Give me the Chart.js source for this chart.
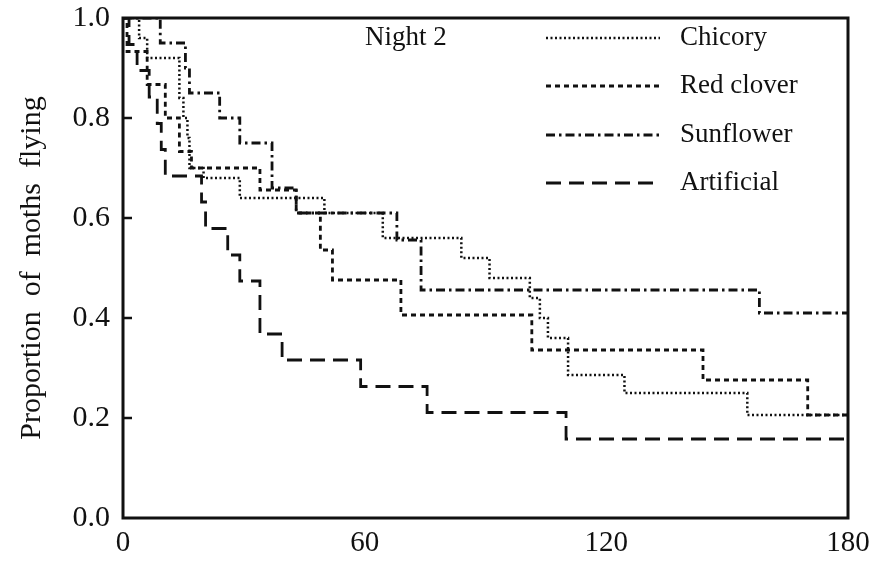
<!DOCTYPE html>
<html>
<head>
<meta charset="utf-8">
<script src="https://cdn.jsdelivr.net/npm/chart.js@4.4.0/dist/chart.umd.min.js"></script>
<style>
  html, body { margin: 0; padding: 0; background: #fff; }
  #wrap { width: 875px; height: 567px; }
</style>
</head>
<body>
<div id="wrap"><canvas id="chart"></canvas></div>
<script>
// axis ticks
const xTicks = [0, 60, 120, 180];
const yTicks = [0, 0.2, 0.4, 0.6, 0.8, 1.0];

const panelLabel = "Night 2";
const seriesNames = ["Chicory", "Red clover", "Sunflower", "Artificial"];

// step curves: value holds from each time until the next one (minutes)
const chicoryTimes  = [0, 4, 6, 14, 15, 16, 16.5, 20, 29, 50, 64.5, 84, 91, 101, 103.5, 105.5, 110.5, 124.5, 155, 180];
const chicoryValues = [1.0, 0.96, 0.92, 0.84, 0.80, 0.76, 0.70, 0.68, 0.64, 0.61, 0.56, 0.52, 0.48, 0.44, 0.40, 0.36, 0.286, 0.25, 0.206, 0.206];

const cloverTimes  = [0, 1, 6, 10.5, 14, 17, 34, 43, 49, 52, 69, 101.5, 144, 170, 180];
const cloverValues = [1.0, 0.933, 0.867, 0.80, 0.733, 0.70, 0.656, 0.61, 0.536, 0.476, 0.406, 0.336, 0.276, 0.206, 0.206];

const sunflowerTimes  = [0, 9.25, 15.5, 16.5, 24, 29, 37, 43, 68, 74, 158, 180];
const sunflowerValues = [1.0, 0.95, 0.90, 0.85, 0.80, 0.75, 0.66, 0.61, 0.556, 0.456, 0.41, 0.41];

const artificialTimes  = [0, 1.5, 3.5, 6.5, 8.5, 9.5, 10.5, 19.5, 20.5, 26, 29, 34, 39.5, 59, 75.5, 110, 180];
const artificialValues = [1.0, 0.947, 0.895, 0.842, 0.789, 0.737, 0.684, 0.632, 0.579, 0.526, 0.474, 0.368, 0.316, 0.263, 0.211, 0.158, 0.158];

const FONT = "'Liberation Serif', 'DejaVu Serif', serif";

function toPoints(times, values) {
    return times.map((t, i) => ({ x: t, y: values[i] }));
}

function makeSeries(name, times, values, dash, width) {
    return {
        label: name,
        data: toPoints(times, values),
        stepped: 'before',
        borderColor: '#111',
        borderWidth: width,
        borderDash: dash,
        borderCapStyle: 'butt',
        pointRadius: 0,
        fill: false
    };
}

// frame, inward ticks and the in-plot legend
const framePlugin = {
    id: 'frame',
    afterDatasetsDraw(chart) {
        const ctx = chart.ctx;
        const a = chart.chartArea;
        const yScale = chart.scales.y;

        ctx.save();
        ctx.strokeStyle = '#111';
        ctx.lineWidth = 3;
        ctx.setLineDash([]);
        ctx.strokeRect(a.left, a.top, a.right - a.left, a.bottom - a.top);

        ctx.lineWidth = 2.5;
        yTicks.forEach(v => {
            if (v === 0 || v === 1) return;
            const py = yScale.getPixelForValue(v);
            ctx.beginPath();
            ctx.moveTo(a.left, py);
            ctx.lineTo(a.left + 9, py);
            ctx.stroke();
        });

        ctx.fillStyle = '#111';
        ctx.font = "27px " + FONT;
        ctx.textBaseline = 'middle';
        ctx.textAlign = 'left';
        ctx.fillText(panelLabel, 365, 38);

        const rows = [38, 86, 135, 183];
        chart.data.datasets.forEach((ds, i) => {
            ctx.lineWidth = ds.borderWidth;
            ctx.setLineDash(ds.borderDash);
            ctx.beginPath();
            ctx.moveTo(546, rows[i]);
            ctx.lineTo(660, rows[i]);
            ctx.stroke();
            ctx.setLineDash([]);
            ctx.fillText(ds.label, 680, rows[i]);
        });
        ctx.restore();
    }
};

const ctx = document.getElementById("chart").getContext("2d");

const chart = new Chart(ctx, {
    type: 'line',
    data: {
        datasets: [
            makeSeries(seriesNames[0], chicoryTimes, chicoryValues, [2, 2.5], 2.5),
            makeSeries(seriesNames[1], cloverTimes, cloverValues, [5, 4], 2.8),
            makeSeries(seriesNames[2], sunflowerTimes, sunflowerValues, [9, 4, 2.5, 4], 2.8),
            makeSeries(seriesNames[3], artificialTimes, artificialValues, [15, 8], 2.8)
        ]
    },
    options: {
        responsive: true,
        maintainAspectRatio: false,
        animation: false,
        layout: { padding: { top: 18, right: 27, left: 0, bottom: 0 } },
        plugins: {
            legend: { display: false },
            tooltip: { enabled: false }
        },
        scales: {
            x: {
                type: 'linear',
                min: 0,
                max: 180,
                afterBuildTicks: s => { s.ticks = xTicks.map(v => ({ value: v })); },
                afterFit: s => { s.height = 49; s.paddingLeft = 0; s.paddingRight = 0; },
                grid: { display: false, drawTicks: false },
                border: { display: false },
                ticks: {
                    padding: 8,
                    color: '#111',
                    maxRotation: 0,
                    font: { family: FONT, size: 29 }
                }
            },
            y: {
                type: 'linear',
                min: 0,
                max: 1,
                afterBuildTicks: s => { s.ticks = yTicks.map(v => ({ value: v })); },
                afterFit: s => { s.width = 123; s.paddingTop = 0; s.paddingBottom = 0; },
                grid: { display: false, drawTicks: false },
                border: { display: false },
                ticks: {
                    padding: 13,
                    color: '#111',
                    font: { family: FONT, size: 30 },
                    callback: v => v.toFixed(1)
                },
                title: {
                    display: true,
                    text: "Proportion  of  moths  flying",
                    color: '#111',
                    padding: { top: 14, bottom: 0 },
                    font: { family: FONT, size: 30 }
                }
            }
        }
    },
    plugins: [framePlugin]
});
</script>
</body>
</html>
